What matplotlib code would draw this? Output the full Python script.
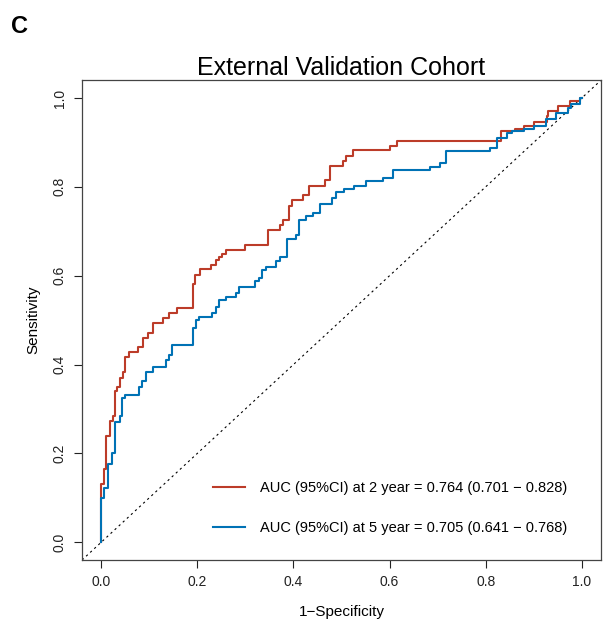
import numpy as np
import matplotlib.pyplot as plt

plt.rcParams['font.family'] = ['Liberation Sans', 'DejaVu Sans']

# ROC vertices (step curves)
fpr_2y = [0, 0, 0.006, 0.010, 0.019, 0.024, 0.028, 0.033, 0.038, 0.045, 0.050, 0.057,
          0.077, 0.086, 0.098, 0.107, 0.129, 0.141, 0.157, 0.191, 0.195, 0.205, 0.228,
          0.238, 0.245, 0.252, 0.260, 0.300, 0.346, 0.372, 0.379, 0.390, 0.396, 0.420,
          0.433, 0.466, 0.476, 0.504, 0.509, 0.524, 0.600, 0.616, 0.831, 0.861, 0.880,
          0.901, 0.928, 0.930, 0.950, 0.976, 0.997, 1.0]
tpr_2y = [0, 0.130, 0.165, 0.240, 0.274, 0.285, 0.340, 0.350, 0.370, 0.383, 0.416, 0.428,
          0.440, 0.460, 0.471, 0.493, 0.504, 0.515, 0.527, 0.581, 0.602, 0.615, 0.624,
          0.636, 0.643, 0.649, 0.658, 0.670, 0.702, 0.715, 0.726, 0.758, 0.771, 0.782,
          0.803, 0.816, 0.847, 0.858, 0.870, 0.883, 0.892, 0.903, 0.925, 0.930, 0.937,
          0.946, 0.959, 0.970, 0.983, 0.993, 1.0, 1.0]

fpr_5y = [0, 0, 0.006, 0.015, 0.022, 0.029, 0.038, 0.043, 0.050, 0.079, 0.084, 0.093,
          0.107, 0.135, 0.141, 0.148, 0.190, 0.197, 0.204, 0.231, 0.238, 0.245, 0.260,
          0.280, 0.286, 0.321, 0.329, 0.335, 0.343, 0.364, 0.371, 0.386, 0.406, 0.412,
          0.426, 0.441, 0.455, 0.481, 0.488, 0.505, 0.526, 0.550, 0.586, 0.607, 0.685,
          0.705, 0.718, 0.809, 0.823, 0.845, 0.854, 0.880, 0.901, 0.926, 0.947, 0.971,
          0.977, 0.997, 1.0]
tpr_5y = [0, 0.100, 0.123, 0.176, 0.200, 0.270, 0.285, 0.325, 0.332, 0.349, 0.364, 0.383,
          0.394, 0.411, 0.421, 0.445, 0.483, 0.500, 0.506, 0.515, 0.530, 0.545, 0.553,
          0.562, 0.575, 0.587, 0.594, 0.612, 0.620, 0.632, 0.643, 0.683, 0.692, 0.725,
          0.734, 0.741, 0.762, 0.775, 0.788, 0.796, 0.803, 0.813, 0.820, 0.838, 0.845,
          0.854, 0.881, 0.888, 0.911, 0.921, 0.925, 0.930, 0.937, 0.952, 0.967, 0.978,
          0.986, 1.0, 1.0]

labels = ['AUC (95%CI) at 2 year = 0.764 (0.701 \u2212 0.828)',
          'AUC (95%CI) at 5 year = 0.705 (0.641 \u2212 0.768)']
colors = ['#BC3C29', '#0072B5']
ticks = [0.0, 0.2, 0.4, 0.6, 0.8, 1.0]

fig = plt.figure(figsize=(6.04, 6.22), dpi=100)
ax = fig.add_axes([0.1358, 0.0997, 0.8592, 0.7713])

ax.axline((0, 0), slope=1, color='black', lw=0.8, ls=(0, (2, 3)))
ax.plot(fpr_2y, tpr_2y, drawstyle='steps-post', color=colors[0], lw=1.5, label=labels[0])
ax.plot(fpr_5y, tpr_5y, drawstyle='steps-post', color=colors[1], lw=1.5, label=labels[1])

ax.set_xlim(-0.04, 1.04)
ax.set_ylim(-0.04, 1.04)
ax.set_xticks(ticks)
ax.set_yticks(ticks)
ax.set_xticklabels([f'{t:.1f}' for t in ticks])
ax.set_yticklabels([f'{t:.1f}' for t in ticks], rotation=90, va='center')
ax.tick_params(direction='out', length=6, width=0.8, labelsize=10, colors='#222222', pad=5)
for s in ax.spines.values():
    s.set_color('#444444')
    s.set_linewidth(0.9)

ax.set_xlabel('1\u2212Specificity', fontsize=11, labelpad=11)
ax.set_ylabel('Sensitivity', fontsize=11, labelpad=9)
ax.set_title('External Validation Cohort', fontsize=18, pad=2)

ax.legend(frameon=False, loc='lower right', bbox_to_anchor=(0.960, 0.024), fontsize=10.5,
          handlelength=2.2, handletextpad=1.0, labelspacing=1.80)

fig.text(0.018, 0.958, 'C', fontsize=17, fontweight='bold', va='center')

fig.savefig('out.png', dpi=100)
